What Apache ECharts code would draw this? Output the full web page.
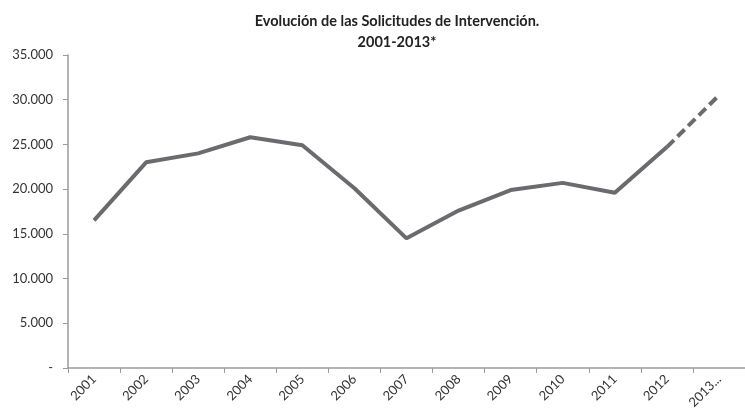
<!DOCTYPE html>
<html><head><meta charset="utf-8">
<script src="https://cdn.jsdelivr.net/npm/echarts@6/dist/echarts.min.js"></script>
<style>html,body{margin:0;padding:0;background:#fff}#c{width:745px;height:414px}</style>
</head><body><div id="c"></div>
<script>
const categories = ['2001','2002','2003','2004','2005','2006','2007','2008','2009','2010','2011','2012','2013*'];
const solidValues = [16500,23000,24000,25800,24900,20100,14500,17600,19900,20700,19600,24700,null];
const projectedValues = [null,null,null,null,null,null,null,null,null,null,null,24700,30500];
const titleLines = ['Evolución de las Solicitudes de Intervención.','2001-2013*'];

function fmt(v){
  if(v===0) return '-';
  return String(v).replace(/\B(?=(\d{3})+(?!\d))/g,'.');
}
const chart = echarts.init(document.getElementById('c'));
chart.setOption({
  animation:false,
  textStyle:{fontFamily:'Lato'},
  title:{text:titleLines.join('\n'),left:392,textAlign:'center',top:6,
    textStyle:{fontFamily:'Lato',fontSize:14.5,fontWeight:'bold',color:'#222',lineHeight:21}},
  grid:{left:68,top:55,width:688,height:313},
  xAxis:{type:'category',data:categories,boundaryGap:true,
    axisLine:{lineStyle:{color:'#9a9a9a',width:1.5}},
    axisTick:{show:true,length:5,alignWithLabel:false,lineStyle:{color:'#9a9a9a'}},
    axisLabel:{rotate:45,color:'#333',fontSize:13,margin:9,
      formatter:v=>v==='2013*'?'2013...':v}},
  yAxis:{type:'value',min:0,max:35000,interval:5000,
    axisLine:{show:true,lineStyle:{color:'#9a9a9a',width:1.5}},
    axisTick:{show:true,length:5,lineStyle:{color:'#9a9a9a'}},
    splitLine:{show:false},
    axisLabel:{color:'#333',fontSize:13,margin:15,formatter:fmt}},
  series:[
    {type:'line',data:solidValues,showSymbol:false,symbol:'none',
      lineStyle:{color:'#6a6b6e',width:4},itemStyle:{color:'#6a6b6e'}},
    {type:'line',data:projectedValues,showSymbol:false,symbol:'none',
      lineStyle:{color:'#6a6b6e',width:4,type:[10,5]},itemStyle:{color:'#6a6b6e'}}
  ]
});
</script></body></html>
